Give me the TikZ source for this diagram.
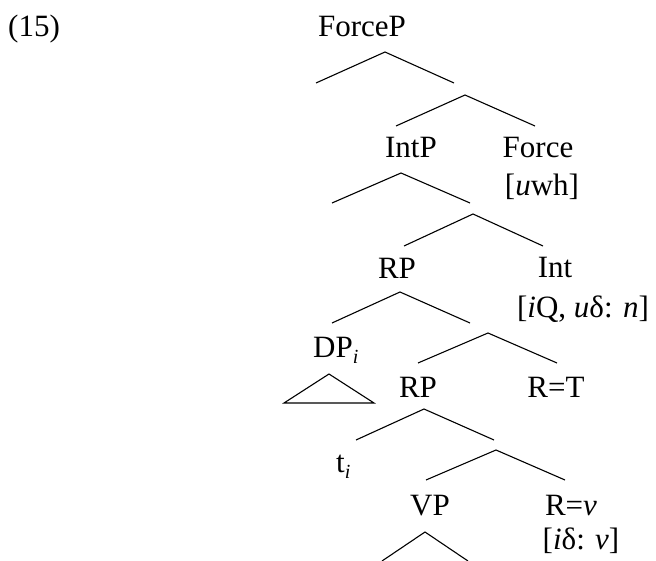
\documentclass[tikz,border=0pt]{standalone}
\usepackage{fontspec}
\setmainfont{Liberation Serif}
\newcommand{\sbi}{\raisebox{-0.22em}{\fontsize{20}{20}\selectfont\itshape i}}
\begin{document}
\begin{tikzpicture}[x=1pt,y=-1pt,
  lbl/.style={anchor=base,inner sep=0pt,font=\fontsize{31}{36}\selectfont},
  branch/.style={line width=1.1pt,line join=miter}]
\useasboundingbox (0,0) rectangle (656,561);
\clip (0,0) rectangle (656,561);

% example number
\node[lbl,anchor=base west] (num) at (8,37) {(15)};

% labels
\node[lbl] (forcep) at (362,37) {ForceP};
\node[lbl] (intp)   at (411,158) {IntP};
\node[lbl] (force)  at (538,158) {Force};
\node[lbl] (forcef) at (542,196) {[\textit{u}wh]};
\node[lbl] (rp1)    at (397,279) {RP};
\node[lbl] (int)    at (555,278) {Int};
\node[lbl] (intf)   at (583,318) {[\textit{i}Q, \textit{u}δ: \textit{n}]};
\node[lbl,anchor=base west] (dp) at (313,357) {DP\sbi};
\node[lbl] (rp2)    at (418,397) {RP};
\node[lbl] (rt)     at (556,397) {R=T};
\node[lbl,anchor=base west] (trace) at (336,472) {t\sbi};
\node[lbl] (vp)     at (430,515) {VP};
\node[lbl] (rv)     at (571,515) {R=\textit{v}};
\node[lbl] (rvf)    at (581,549) {[\textit{i}δ: \textit{v}]};

% branch points: apex, left foot, right foot
\foreach \n/\ax/\ay/\lx/\ly/\rx/\ry in {
  b1/385/52/316/83/454/83,
  b2/465/95/396/126/535/126,
  b3/401/173/332/203/470/203,
  b4/473/214/404/246/543/246,
  b5/400/292/332/323/470/323,
  b6/488/333/418/363/557/363,
  b7/424/409/356/440/494/440,
  b8/496/450/426/480/565/480,
  b9/425/532/382/561/468/561}{
  \coordinate (\n-top) at (\ax,\ay);
  \coordinate (\n-l) at (\lx,\ly);
  \coordinate (\n-r) at (\rx,\ry);
  \draw[branch] (\n-l) -- (\n-top) -- (\n-r);
}

% triangle under DP
\coordinate (tri-top) at (329,374);
\coordinate (tri-l) at (284,403);
\coordinate (tri-r) at (374,403);
\draw[branch] (tri-top) -- (tri-l) -- (tri-r) -- cycle;
\end{tikzpicture}
\end{document}
